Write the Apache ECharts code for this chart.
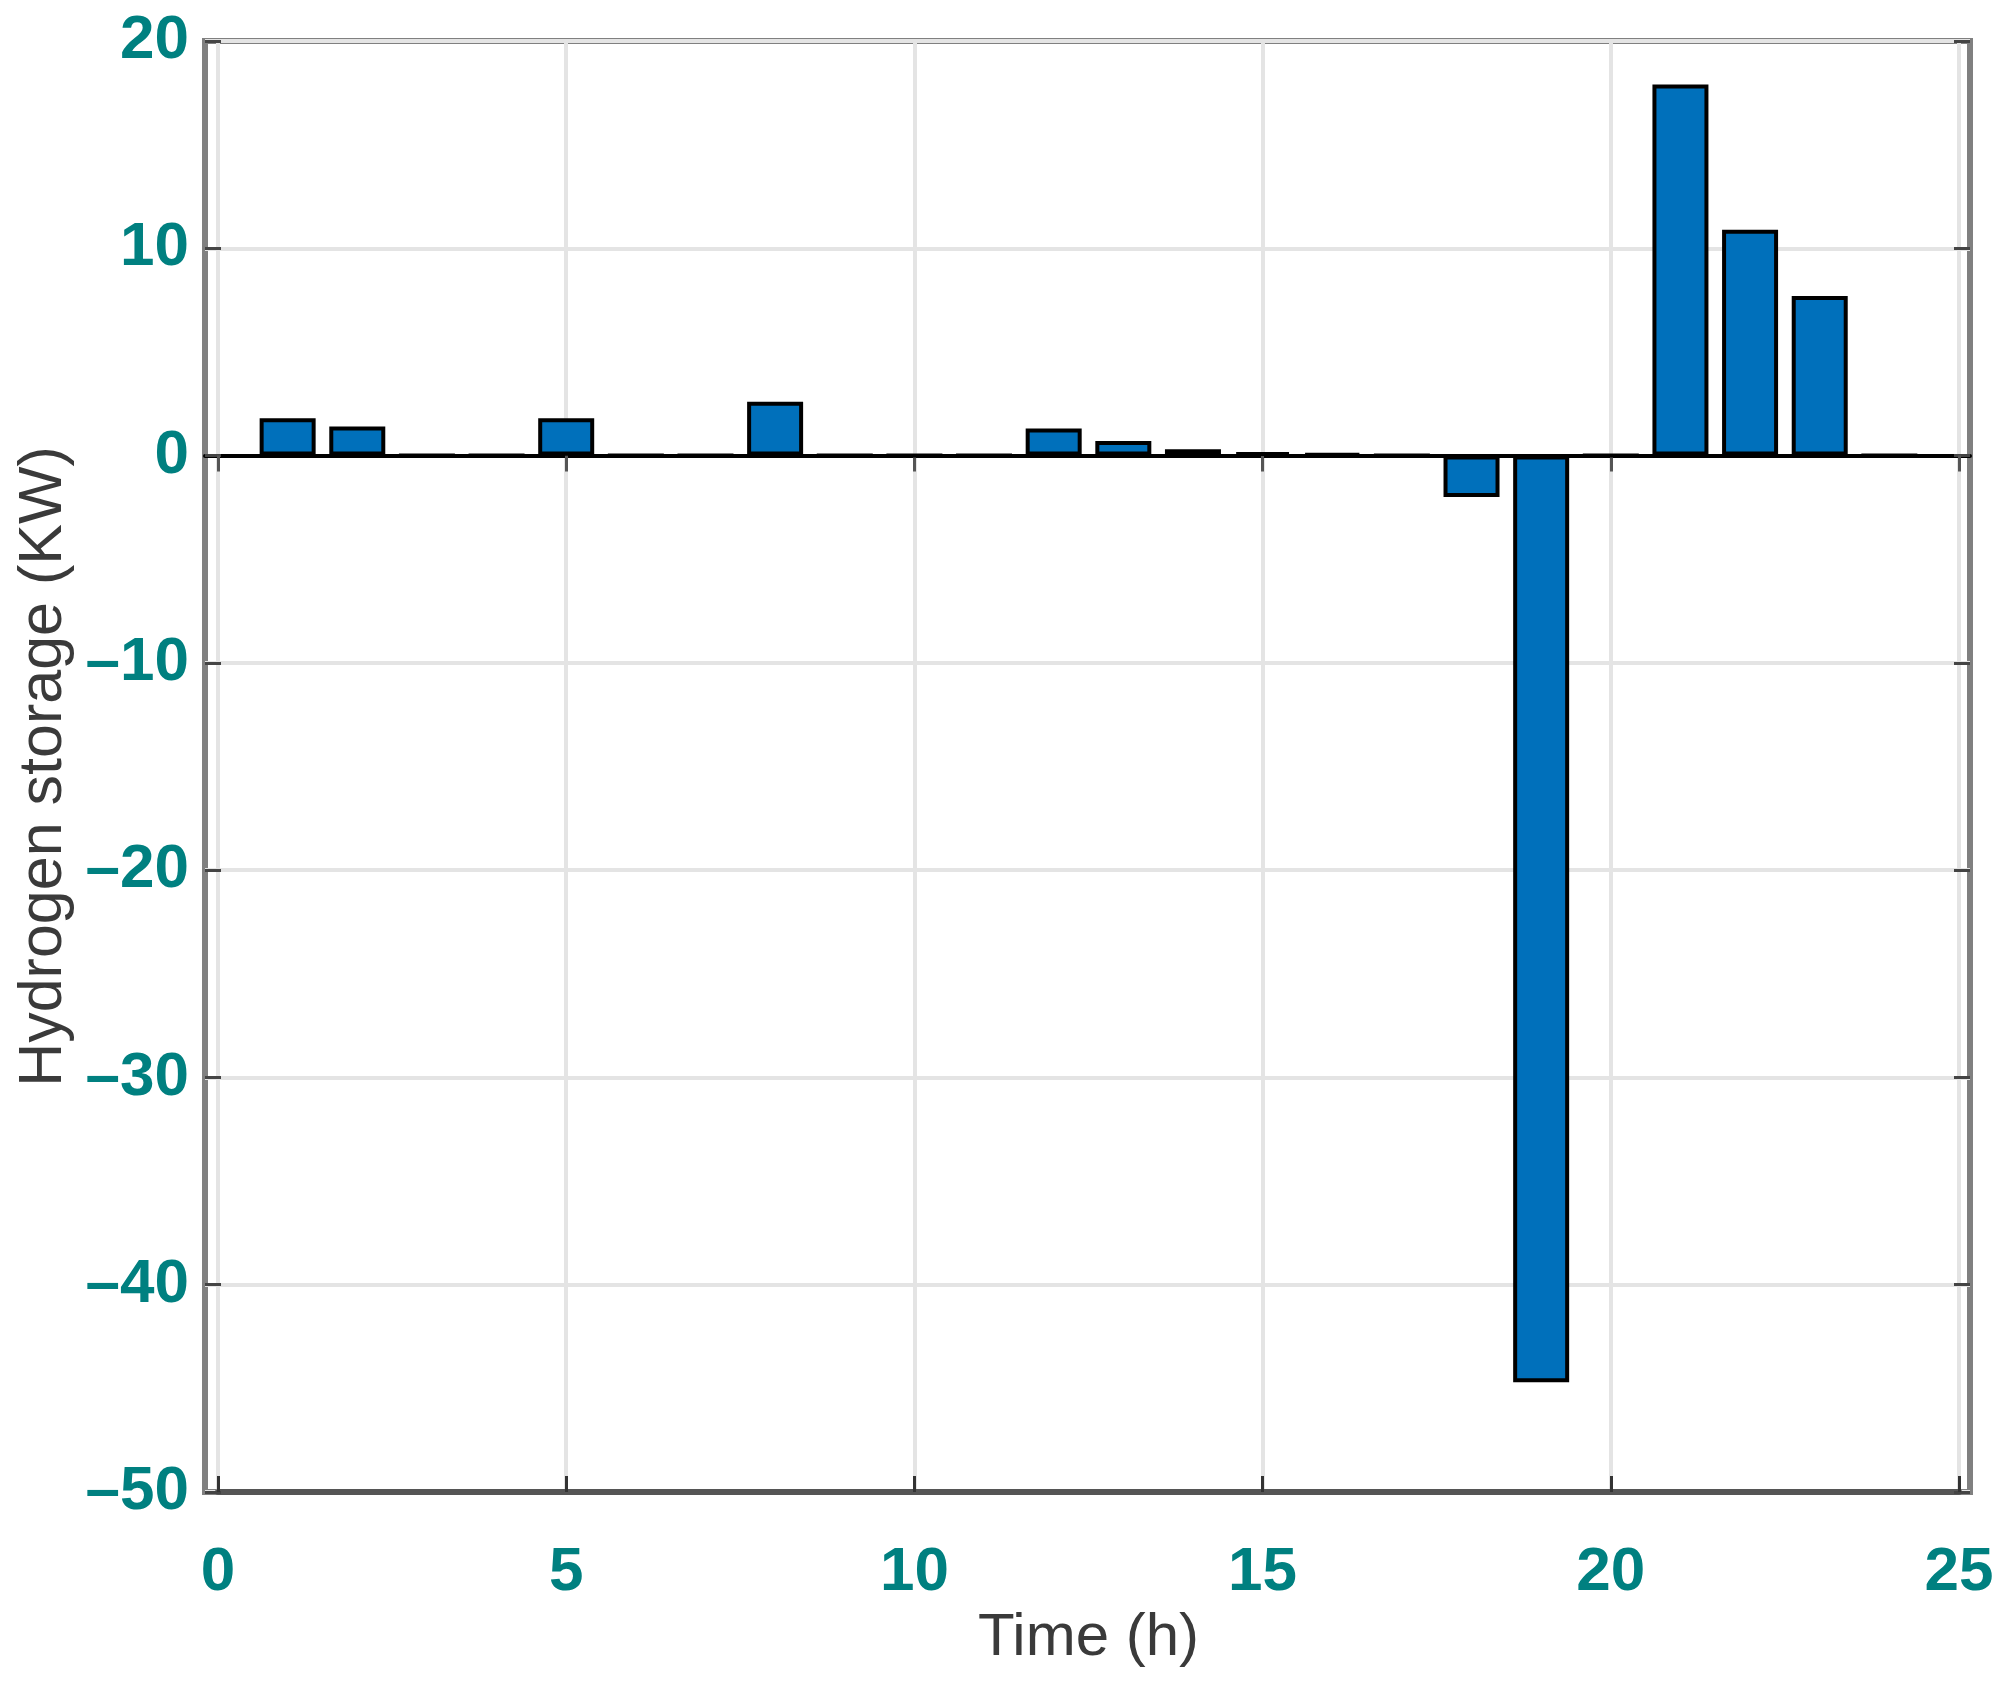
<!DOCTYPE html>
<html>
<head>
<meta charset="utf-8">
<script src="https://cdn.jsdelivr.net/npm/echarts@6/dist/echarts.min.js"></script>
<style>
  html, body { margin: 0; padding: 0; background: #fff; }
  #chart { width: 2008px; height: 1686px; }
</style>
</head>
<body>
<div id="chart"></div>
<script>
// hours of the day and hydrogen storage power (KW)
var hours = [1, 2, 3, 4, 5, 6, 7, 8, 9, 10, 11, 12, 13, 14, 15, 16, 17, 18, 19, 20, 21, 22, 23, 24];
var storage = [1.8, 1.4, 0, 0, 1.8, 0, 0, 2.6, 0, 0, 0, 1.3, 0.7, 0.3, 0.15, 0.08, 0, -2.0, -44.7, 0, 17.9, 10.9, 7.7, 0];
var xTicks = [0, 5, 10, 15, 20, 25];
var yTicks = [-50, -40, -30, -20, -10, 0, 10, 20];

var teal = '#008080';
var barData = [];
for (var i = 0; i < hours.length; i++) {
	barData.push([hours[i], storage[i]]);
}

function dashMinus(v) {
	return String(v).replace('-', '\u2013');
}

var chart = echarts.init(document.getElementById('chart'));
var option = {
	backgroundColor: '#ffffff',
	animation: false,
	grid: [
		// outer box
		{ left: 205, right: 38, top: 41, bottom: 194, show: true, borderWidth: 6, borderColor: '#808080', backgroundColor: 'transparent' },
		// data area
		{ left: 218, right: 49, top: 41, bottom: 194 }
	],
	xAxis: [
		{
			gridIndex: 0, type: 'value', min: 0, max: 1,
			axisLine: { show: true, onZero: true, lineStyle: { color: '#000', width: 4 } },
			axisTick: { show: false }, axisLabel: { show: false }, splitLine: { show: false }
		},
		{
			gridIndex: 1, type: 'value', position: 'bottom',
			min: xTicks[0], max: xTicks[xTicks.length - 1], interval: 5,
			name: 'Time (h)', nameLocation: 'middle', nameGap: 112,
			nameTextStyle: { fontFamily: 'Liberation Sans', fontSize: 60, color: '#3a3a3a' },
			axisLine: { show: true, onZero: false, lineStyle: { color: '#555', width: 6 } },
			axisTick: { show: true, inside: true, length: 16, lineStyle: { color: '#333', width: 3 } },
			axisLabel: { margin: 50, fontFamily: 'Liberation Sans', fontWeight: 'bold', fontSize: 62, color: teal },
			splitLine: { show: true, lineStyle: { color: '#e4e4e4', width: 4 } }
		},
		{
			gridIndex: 1, type: 'value', position: 'top',
			min: xTicks[0], max: xTicks[xTicks.length - 1], interval: 5,
			axisLine: { show: false },
			axisTick: { show: true, inside: true, length: 16, lineStyle: { color: '#555', width: 3 } },
			axisLabel: { show: false }, splitLine: { show: false }
		}
	],
	yAxis: [
		{
			gridIndex: 0, type: 'value',
			min: yTicks[0], max: yTicks[yTicks.length - 1], interval: 10,
			name: 'Hydrogen storage (KW)', nameLocation: 'middle', nameGap: 128,
			nameTextStyle: { fontFamily: 'Liberation Sans', fontSize: 61, color: '#3a3a3a' },
			axisLine: { show: false },
			axisTick: { show: true, inside: true, length: 16, lineStyle: { color: '#444', width: 3 } },
			axisLabel: { margin: 16, fontFamily: 'Liberation Sans', fontWeight: 'bold', fontSize: 62, color: teal, formatter: dashMinus },
			splitLine: { show: true, lineStyle: { color: '#e4e4e4', width: 4 } }
		},
		{
			gridIndex: 1, type: 'value',
			min: yTicks[0], max: yTicks[yTicks.length - 1], interval: 10,
			axisLine: { show: false }, axisTick: { show: false }, axisLabel: { show: false }, splitLine: { show: false }
		},
		{
			gridIndex: 0, type: 'value', position: 'right',
			min: yTicks[0], max: yTicks[yTicks.length - 1], interval: 10,
			axisLine: { show: false },
			axisTick: { show: true, inside: true, length: 16, lineStyle: { color: '#444', width: 3 } },
			axisLabel: { show: false }, splitLine: { show: false }
		}
	],
	series: [
		{
			type: 'bar',
			xAxisIndex: 1,
			yAxisIndex: 1,
			barWidth: 56,
			data: barData,
			itemStyle: { color: '#0070bb', borderColor: '#000', borderWidth: 4 }
		}
	]
};
chart.setOption(option);
</script>
</body>
</html>
